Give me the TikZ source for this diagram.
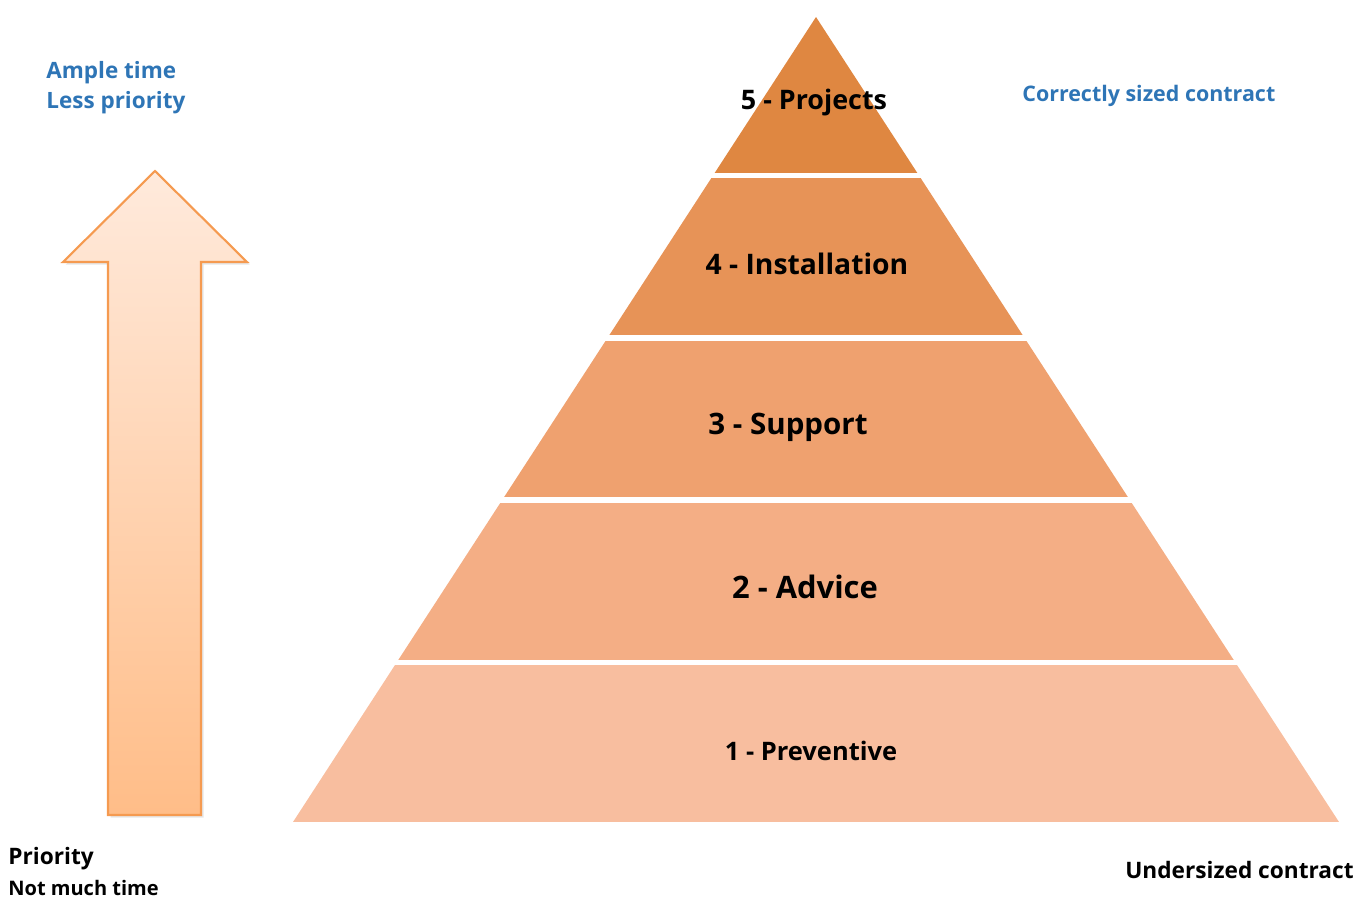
\documentclass[tikz,border=0pt]{standalone}
\usepackage{fontspec}
\setmainfont{Open Sans}
\usetikzlibrary{shadows}
\definecolor{tierfive}{HTML}{DF8741}
\definecolor{tierfour}{HTML}{E79357}
\definecolor{tierthree}{HTML}{EFA16F}
\definecolor{tiertwo}{HTML}{F4AE85}
\definecolor{tierone}{HTML}{F8BE9F}
\definecolor{noteblue}{HTML}{2E75B6}
\definecolor{arrowedge}{HTML}{F59A50}
\definecolor{arrowtop}{HTML}{FFEADC}
\definecolor{arrowbottom}{HTML}{FFBD88}

\begin{document}
\begin{tikzpicture}[
    x=0.02cm, y=-0.02cm,
    tierlabel/.style={font=\bfseries\fontsize{#1}{#1}\selectfont, text=black},
    bluenote/.style={font=\bfseries\fontsize{#1}{#1}\selectfont, text=noteblue, inner sep=0pt},
    blacknote/.style={font=\bfseries\fontsize{#1}{#1}\selectfont, text=black, inner sep=0pt},
]
\useasboundingbox (0,0) rectangle (1359,898);

% Priority arrow
\draw[line width=1.2pt, draw=arrowedge, top color=arrowtop, bottom color=arrowbottom,
      drop shadow={opacity=0.2, shadow xshift=1.5pt, shadow yshift=-1.5pt}]
    (108,815) -- (108,262) -- (63,262) -- (155,171) -- (247,262)
    -- (201,262) -- (201,815) -- cycle;

% Pyramid, cut into five tiers
\begin{scope}
\clip (816,17) -- (1339,822) -- (293,822) -- cycle;
\foreach \ytop/\ybot/\col in {17/173/tierfive, 178/335/tierfour, 341/497/tierthree,
                              503/660/tiertwo, 665/822/tierone}
    \fill[\col] (280,\ytop) rectangle (1350,\ybot);
\end{scope}

% Tier names
\node[tierlabel=15.3] (projects) at (814,103) {5 - Projects};
\node[tierlabel=16.1] (installation) at (807,264) {4 - Installation};
\node[tierlabel=16.8] (support) at (788,427) {3 - Support};
\node[tierlabel=17.6] (advice) at (805,587) {2 - Advice};
\node[tierlabel=14.5] (preventive) at (811,751) {1 - Preventive};

% Side notes
\node[bluenote=12.8, anchor=west] (ample) at (46,73) {Ample time};
\node[bluenote=12.8, anchor=west] (lesspri) at (46,103) {Less priority};
\node[bluenote=12.2, anchor=west] (correct) at (1022,96) {Correctly sized contract};
\node[blacknote=12.9, anchor=west] (priority) at (8,859) {Priority};
\node[blacknote=11.4, anchor=west] (notime) at (8,888) {Not much time};
\node[blacknote=12.9, anchor=east] (undersized) at (1354,870) {Undersized contract};

\end{tikzpicture}
\end{document}
